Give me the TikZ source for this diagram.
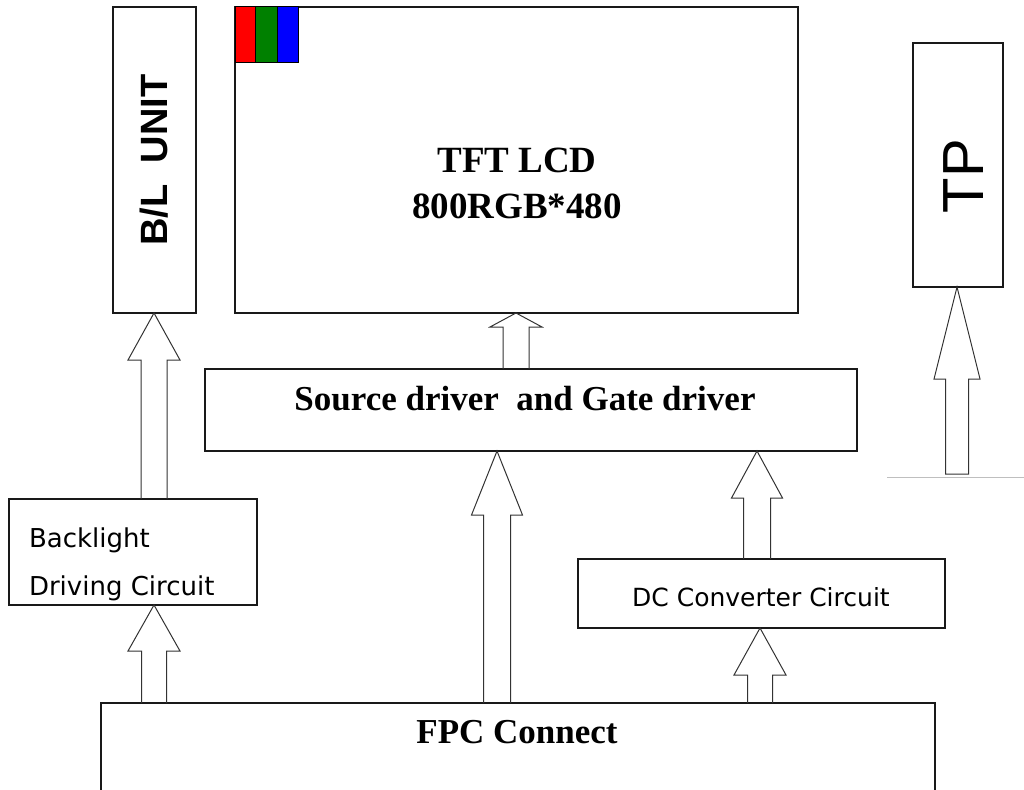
\documentclass[tikz,border=0pt]{standalone}
\usepackage{fontspec}
\setmainfont{Liberation Serif}
\newfontfamily\arialf{Liberation Sans}
\newfontfamily\lightsans{DejaVu Sans}
\usetikzlibrary{calc}
\definecolor{rgbgreen}{RGB}{0,128,0}
% x, from-anchor, to-anchor, shaft half width, head half width, head length, end
\newcommand\barrow[7]{%
  \draw[blk] let \p1=(#2), \p2=(#3) in
    ({(#1-#4)*1pt},\y1) -- ({(#1-#4)*1pt},{\y2-#6pt}) -- ({(#1-#5)*1pt},{\y2-#6pt})
    -- ({#1*1pt},\y2) -- ({(#1+#5)*1pt},{\y2-#6pt}) -- ({(#1+#4)*1pt},{\y2-#6pt})
    -- ({(#1+#4)*1pt},\y1) #7;}
\begin{document}
\begin{tikzpicture}[x=1pt,y=-1pt,
  box/.style={draw=black!90, line width=1.3pt, inner sep=0pt, outer sep=0pt, anchor=north west},
  blk/.style={draw=black!80, line width=1pt, line join=miter},
  lbl/.style={inner sep=0pt, outer sep=0pt}]
\useasboundingbox (0,0) rectangle (1024,789);
\clip (0,0) rectangle (1024,789);
% boxes
\node[box, minimum width=83pt, minimum height=306pt] (blunit) at (113,7) {};
\node[box, minimum width=563pt, minimum height=306pt] (tft) at (235,7) {};
\node[box, minimum width=90pt, minimum height=244pt] (tp) at (913,43) {};
\node[box, minimum width=652pt, minimum height=82pt] (src) at (205,369) {};
\node[box, minimum width=248pt, minimum height=106pt] (bl) at (9,499) {};
\node[box, minimum width=367pt, minimum height=69pt] (dc) at (578,559) {};
\node[box, minimum width=834pt, minimum height=120pt] (fpc) at (101,703) {};
\coordinate (tpbase) at (957,474);
% RGB pixel
\draw[line width=1pt, fill=red] ($(tft.north west)+(0,0)$) rectangle ($(tft.north west)+(20,56)$);
\draw[line width=1pt, fill=rgbgreen] ($(tft.north west)+(20,0)$) rectangle ($(tft.north west)+(42,56)$);
\draw[line width=1pt, fill=blue] ($(tft.north west)+(42,0)$) rectangle ($(tft.north west)+(63,56)$);
% texts
\node[lbl, rotate=90] (blunittext) at (154,160) {\arialf\bfseries\fontsize{38}{40}\selectfont B/L\ \ UNIT};
\node[lbl, rotate=90] (tptext) at (964,176) {\arialf\fontsize{58}{62}\selectfont TP};
\node[lbl, anchor=base] (tft1) at (517,172) {\bfseries\fontsize{37}{40}\selectfont TFT LCD};
\node[lbl, anchor=base] (tft2) at (517,218) {\bfseries\fontsize{37}{40}\selectfont 800RGB*480};
\node[lbl, anchor=base] (srctext) at (525,410) {\bfseries\fontsize{35}{40}\selectfont Source driver\ \ and Gate driver};
\node[lbl, anchor=base] (fpctext) at (517,743) {\bfseries\fontsize{35}{40}\selectfont FPC Connect};
\node[lbl, anchor=base west] (bltext1) at (29,547) {\lightsans\fontsize{26}{30}\selectfont Backlight};
\node[lbl, anchor=base west] (bltext2) at (29,595) {\lightsans\fontsize{26}{30}\selectfont Driving Circuit};
\node[lbl, anchor=base] (dctext) at (761,606) {\lightsans\fontsize{25}{30}\selectfont DC Converter Circuit};
% block arrows
\barrow{154}{bl.north}{blunit.south}{13}{26}{47}{}
\barrow{154}{fpc.north}{bl.south}{12.5}{26}{46}{}
\barrow{516}{src.north}{tft.south}{13}{26}{14}{}
\barrow{497}{fpc.north}{src.south}{13.5}{25.5}{64}{}
\barrow{757}{dc.north}{src.south}{13.5}{25.5}{47}{}
\barrow{760}{fpc.north}{dc.south}{12.5}{26}{47}{}
\barrow{957}{tpbase}{tp.south}{11.5}{23}{92}{-- cycle}
\draw[black!25, line width=1pt] (887,477) -- (1024,477);
\end{tikzpicture}
\end{document}
